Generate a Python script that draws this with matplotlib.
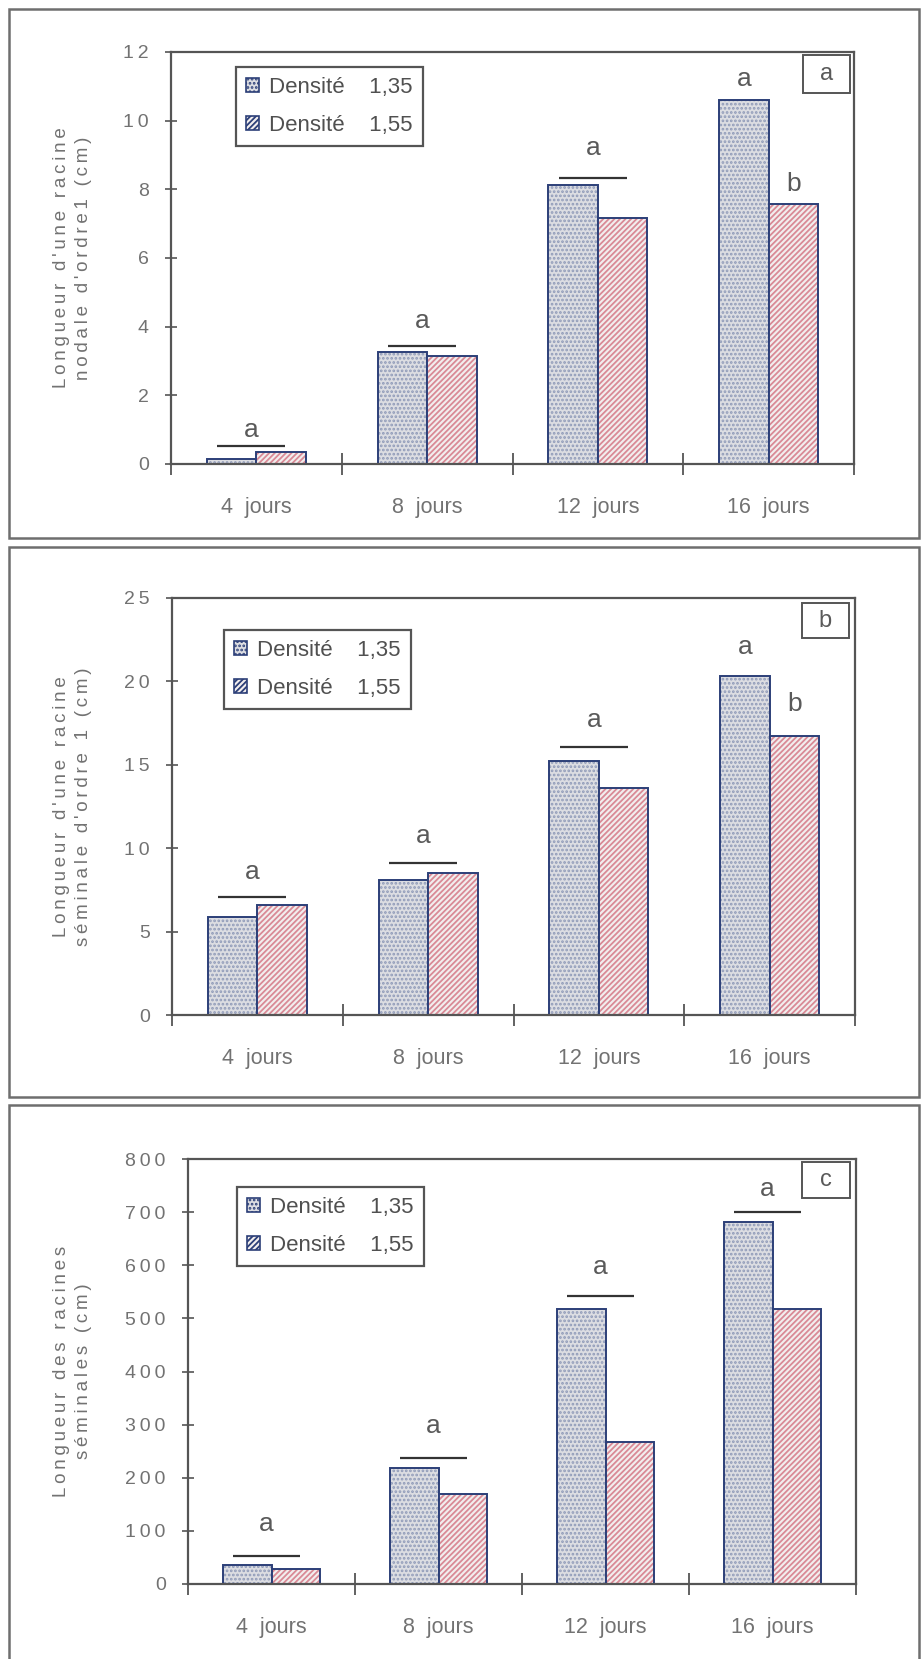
import numpy as np
import matplotlib
matplotlib.use("Agg")
import matplotlib.pyplot as plt
from matplotlib.patches import Rectangle

# Données
jours = ["4  jours", "8  jours", "12  jours", "16  jours"]
series = ["Densité    1,35", "Densité    1,55"]

nodale_135 = [0.16, 3.25, 8.13, 10.59]
nodale_155 = [0.36, 3.16, 7.17, 7.56]
seminale_135 = [5.90, 8.10, 15.24, 20.31]
seminale_155 = [6.57, 8.52, 13.60, 16.70]
racines_135 = [35, 219, 517, 682]
racines_155 = [28, 169, 268, 517]

# lettres de significativité : (groupe, niveau du trait, niveau de la lettre, lettre, barre)
# barre : None = centré sur le groupe, 0/1 = au-dessus d'une des deux barres
sig_a = [(0, 0.53, 1.0, "a", None), (1, 3.43, 4.16, "a", None), (2, 8.33, 9.19, "a", None),
         (3, None, 11.2, "a", 0), (3, None, 8.15, "b", 1)]
sig_b = [(0, 7.10, 8.58, "a", None), (1, 9.13, 10.76, "a", None), (2, 16.05, 17.7, "a", None),
         (3, None, 22.07, "a", 0), (3, None, 18.67, "b", 1)]
sig_c = [(0, 53, 113, "a", None), (1, 238, 297, "a", None), (2, 543, 597, "a", None),
         (3, 701, 744, "a", None)]

W, H = 923, 1659
GRAY = "#727272"
EDGE = "#2c3f78"
SANS = ["Liberation Sans", "DejaVu Sans"]

plt.rcParams["hatch.linewidth"] = 1.3

fig = plt.figure(figsize=(W / 100, H / 100), dpi=100)


def fx(px):
    return px / W


def fy(py):
    return 1 - py / H


def spaced(s):
    # le texte scanné est très espacé : on glisse une espace fine entre les lettres
    return "\u2009".join(s).replace("\u2009\n\u2009", "\n")


def panel(box, frame, y135, y155, ymax, ystep, ylabel, sigs, leg, tag, tagbox):
    left, top, right, bottom = box
    # cadre du panneau
    fl, ft, fr, fb = frame
    fig.add_artist(Rectangle((fx(fl), fy(fb)), fx(fr - fl), (fb - ft) / H,
                             transform=fig.transFigure, fill=False,
                             edgecolor="#6e6e6e", linewidth=1.8))

    ax = fig.add_axes([fx(left), fy(bottom), (right - left) / W, (bottom - top) / H])
    x = np.arange(len(jours))
    w = 0.29
    ax.bar(x - w / 2, y135, w, color="#dcdde2", hatch="....", edgecolor="#8f9ab8", linewidth=0)
    ax.bar(x - w / 2, y135, w, fill=False, edgecolor=EDGE, linewidth=1.4)
    ax.bar(x + w / 2, y155, w, color="#f2eeee", hatch="//////", edgecolor="#d98a96", linewidth=0)
    ax.bar(x + w / 2, y155, w, fill=False, edgecolor=EDGE, linewidth=1.4)

    for g, line, lev, txt, bar in sigs:
        if bar is None:
            xc = g - 0.03
            if line is not None:
                ax.plot([xc - 0.2, xc + 0.2], [line, line], color="#333333", lw=1.6,
                        solid_capstyle="butt")
        else:
            xc = g - w / 2 if bar == 0 else g + w / 2
        ax.text(xc, lev, txt, ha="center", va="center", fontsize=19,
                color="#5a5a5a", family=SANS)

    ticks = np.arange(0, ymax + ystep / 2, ystep)
    ax.set_xlim(-0.5, 3.5)
    ax.set_ylim(0, ymax)
    ax.set_yticks(ticks)
    ax.set_yticklabels([spaced(f"{v:g}") for v in ticks], family=SANS, fontsize=14, color=GRAY)
    ax.set_xticks([-0.5, 0.5, 1.5, 2.5, 3.5])
    ax.set_xticklabels([])
    ax.set_xticks(x, minor=True)
    ax.set_xticklabels(jours, minor=True, family=SANS, fontsize=15.5, color=GRAY)
    ax.tick_params(axis="x", which="major", direction="inout", length=16, width=1.3,
                   color="#555555")
    ax.tick_params(axis="x", which="minor", length=0, pad=24)
    ax.tick_params(axis="y", direction="inout", length=8, width=1.2, color="#555555", pad=12)
    for s in ax.spines.values():
        s.set_color("#555555")
        s.set_linewidth(1.6)

    ax.set_ylabel(spaced(ylabel), family=SANS, fontsize=13.5, color=GRAY, linespacing=1.4)
    ax.yaxis.set_label_coords((92 - left) / (right - left), 0.5)

    handles = [
        Rectangle((0, 0), 1, 1, facecolor="#dcdde2", hatch="....", edgecolor=EDGE, linewidth=1.2),
        Rectangle((0, 0), 1, 1, facecolor="#f2eeee", hatch="//////", edgecolor=EDGE, linewidth=1.2),
    ]
    lg = fig.legend(handles, series, loc="upper left", bbox_to_anchor=(fx(leg[0]), fy(leg[1])),
                    bbox_transform=fig.transFigure, borderaxespad=0, fancybox=False,
                    handlelength=0.6, handleheight=0.6, handletextpad=0.45,
                    borderpad=0.45, labelspacing=0.75,
                    prop={"family": SANS, "size": 16}, labelcolor="#505050",
                    edgecolor="#555555", framealpha=1)
    lg.get_frame().set_linewidth(1.6)

    tl, tt, tr, tb = tagbox
    fig.add_artist(Rectangle((fx(tl), fy(tb)), fx(tr - tl), (tb - tt) / H,
                             transform=fig.transFigure, fill=False,
                             edgecolor="#555555", linewidth=1.4))
    fig.text(fx((tl + tr) / 2), fy((tt + tb) / 2), tag, ha="center", va="center",
             fontsize=17, color="#5a5a5a", family=SANS)
    return ax


panel((171, 52, 854, 464), (9, 9, 919, 538), nodale_135, nodale_155, 12, 2,
      "Longueur d'une racine\nnodale d'ordre1 (cm)", sig_a, (236, 67), "a",
      (803, 55, 850, 93))
panel((172, 598, 855, 1015), (9, 547, 919, 1097), seminale_135, seminale_155, 25, 5,
      "Longueur d'une racine\nséminale d'ordre 1 (cm)", sig_b, (224, 630), "b",
      (802, 603, 849, 638))
panel((188, 1159, 856, 1584), (9, 1105, 919, 1700), racines_135, racines_155, 800, 100,
      "Longueur des racines\nséminales (cm)", sig_c, (237, 1187), "c",
      (802, 1162, 850, 1198))

fig.savefig("out.png", dpi=100)
